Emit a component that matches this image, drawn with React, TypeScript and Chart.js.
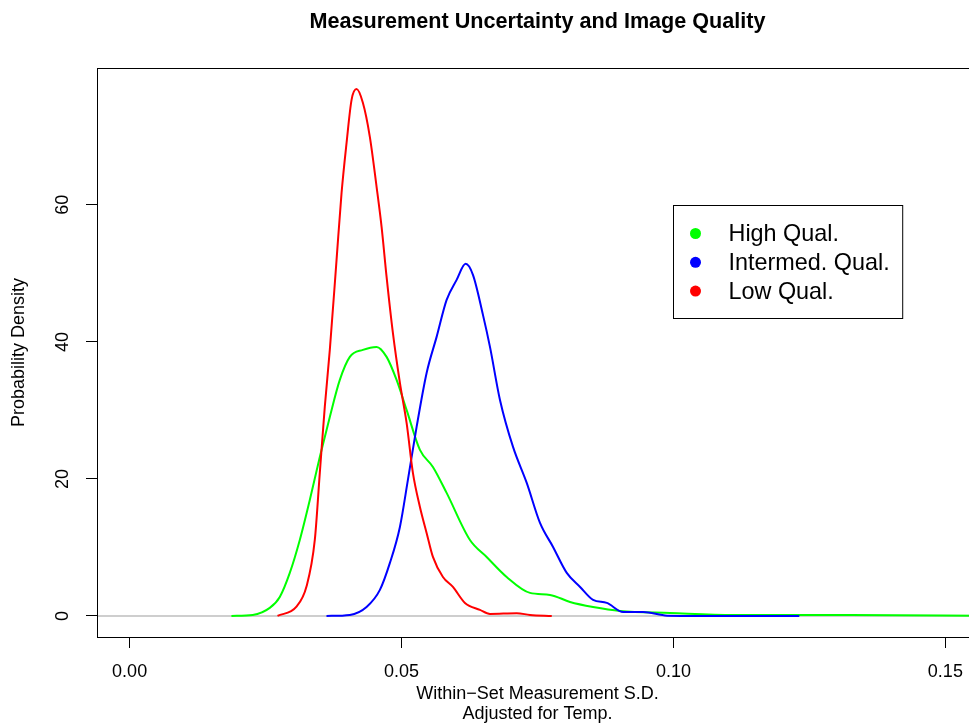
import React, { useEffect, useRef } from 'react';
import { Chart, registerables } from 'chart.js';

Chart.register(...registerables);

// ---- data ----
const seriesLabels = ['High Qual.', 'Intermed. Qual.', 'Low Qual.'];
const seriesColors = ['#00FF00', '#0000FF', '#FF0000'];

const highX = [0.01872, 0.02264, 0.02577, 0.02761, 0.02945, 0.03129, 0.03313, 0.03497, 0.03681, 0.03865, 0.04049, 0.04289, 0.04541, 0.04725, 0.04909, 0.05093, 0.05338, 0.05577, 0.05829, 0.06258, 0.06565, 0.06933, 0.07362, 0.0773, 0.08098, 0.08522, 0.09019, 0.09939, 0.11099, 0.13252, 0.158];
const highY = [0, 0.15, 1.17, 2.77, 6.28, 11.09, 16.93, 23.21, 29.05, 34.45, 37.81, 38.83, 39.27, 37.81, 34.45, 30.07, 24.23, 21.75, 17.96, 11.09, 8.61, 5.69, 3.36, 3.07, 2.04, 1.31, 0.73, 0.44, 0.15, 0.15, 0.0];

const interX = [0.0362, 0.04049, 0.04357, 0.04602, 0.04786, 0.0497, 0.05117, 0.05277, 0.05461, 0.05645, 0.05829, 0.06013, 0.06179, 0.06313, 0.06497, 0.06626, 0.0681, 0.0705, 0.07302, 0.07546, 0.07786, 0.08038, 0.08283, 0.08522, 0.08774, 0.09074, 0.09442, 0.09884, 0.10491, 0.12314];
const interY = [0, 0.15, 1.31, 3.8, 7.74, 12.99, 19.85, 27.59, 35.47, 40.73, 46.13, 49.05, 51.39, 49.78, 43.94, 39.27, 31.53, 24.67, 19.42, 13.58, 10.07, 6.28, 4.23, 2.34, 1.9, 0.58, 0.58, 0.04, 0, 0];

const lowX = [0.02719, 0.03068, 0.03252, 0.03405, 0.03497, 0.03589, 0.03681, 0.03805, 0.03897, 0.03989, 0.04081, 0.04173, 0.04289, 0.04417, 0.04541, 0.04633, 0.04725, 0.04841, 0.0497, 0.05093, 0.05209, 0.05338, 0.05461, 0.05577, 0.05761, 0.05945, 0.06166, 0.06442, 0.06626, 0.07118, 0.07362, 0.07762];
const lowY = [0, 1.36, 4.28, 11.09, 20.88, 30.55, 38.83, 51.97, 61.75, 69.05, 75.33, 76.9, 74.89, 69.93, 62.63, 56.79, 49.49, 41.31, 34.01, 28.18, 20.88, 15.91, 12.12, 8.61, 5.69, 4.23, 1.9, 0.88, 0.29, 0.39, 0.15, 0];

const xTicks = [0, 0.05, 0.1, 0.15];
const xTickLabels = ['0.00', '0.05', '0.10', '0.15'];
const yTicks = [0, 20, 40, 60];
const yTickLabels = ['0', '20', '40', '60'];
const xLimits = [0, 0.15];
const yLimits = [0, 76.9];
const legendAnchor = [0.1, 60];

const titleText = 'Measurement Uncertainty and Image Quality';
const xTitle = ['Within\u2212Set Measurement S.D.', 'Adjusted for Temp.'];
const yTitle = 'Probability Density';

const FONT = '"Liberation Sans", Arial, Helvetica, sans-serif';

const ext = (lim: number[]) => {
  const d = (lim[1] - lim[0]) * 0.04;
  return [lim[0] - d, lim[1] + d];
};

const framePlugin = {
  id: 'rframe',
  beforeDatasetsDraw(chart: any) {
    const { ctx, chartArea: a, scales } = chart;
    const y0 = scales.y.getPixelForValue(0);
    ctx.save();
    ctx.strokeStyle = '#BEBEBE';
    ctx.lineWidth = 1.5;
    ctx.beginPath();
    ctx.moveTo(a.left, y0);
    ctx.lineTo(a.right, y0);
    ctx.stroke();
    ctx.restore();
  },
  afterDraw(chart: any) {
    const { ctx, chartArea: a, scales } = chart;
    ctx.save();
    ctx.strokeStyle = '#000';
    ctx.lineWidth = 1;
    ctx.strokeRect(Math.round(a.left) + 0.5, Math.round(a.top) + 0.5, Math.round(a.right - a.left), Math.round(a.bottom - a.top));

    // legend
    const lx = Math.round(scales.x.getPixelForValue(legendAnchor[0])) + 0.5;
    const ly = Math.round(scales.y.getPixelForValue(legendAnchor[1])) + 0.5;
    ctx.font = `23.4px ${FONT}`;
    let maxW = 0;
    seriesLabels.forEach((l) => { maxW = Math.max(maxW, ctx.measureText(l).width); });
    const w = 55 + maxW + 13;
    const h = 113;
    ctx.fillStyle = '#fff';
    ctx.fillRect(lx, ly, w, h);
    ctx.strokeStyle = '#000';
    ctx.strokeRect(lx, ly, w, h);
    ctx.textBaseline = 'middle';
    ctx.textAlign = 'left';
    seriesLabels.forEach((l, i) => {
      const cy = ly + 28 + i * 28.8;
      ctx.fillStyle = seriesColors[i];
      ctx.beginPath();
      ctx.arc(lx + 22, cy, 5.5, 0, Math.PI * 2);
      ctx.fill();
      ctx.fillStyle = '#000';
      ctx.fillText(l, lx + 55, cy + 1);
    });
    ctx.restore();
  },
};

export default function App() {
  const ref = useRef<HTMLCanvasElement | null>(null);

  useEffect(() => {
    if (!ref.current) return;
    const [xMin, xMax] = ext(xLimits);
    const [yMin, yMax] = ext(yLimits);
    const mk = (xs: number[], ys: number[]) => xs.map((x, i) => ({ x, y: ys[i] }));
    const series = [mk(highX, highY), mk(interX, interY), mk(lowX, lowY)];
    const tickFont = { family: FONT, size: 18 };

    const chart = new Chart(ref.current, {
      type: 'line',
      data: {
        datasets: series.map((d, i) => ({
          label: seriesLabels[i],
          data: d,
          borderColor: seriesColors[i],
          backgroundColor: seriesColors[i],
          borderWidth: 2,
          pointRadius: 0,
          fill: false,
          cubicInterpolationMode: 'monotone' as const,
          order: 3 - i,
        })),
      },
      options: {
        animation: false,
        responsive: false,
        devicePixelRatio: 1,
        layout: { padding: 0 },
        plugins: {
          legend: { display: false },
          tooltip: { enabled: false },
          title: {
            display: true,
            text: titleText,
            fullSize: false,
            color: '#000',
            font: { family: FONT, size: 21.6, weight: 'bold', lineHeight: 1.2 },
            padding: { top: 9, bottom: 33.08 },
          },
        },
        scales: {
          x: {
            type: 'linear',
            min: xMin,
            max: xMax,
            afterBuildTicks: (s: any) => { s.ticks = xTicks.map((v) => ({ value: v })); },
            afterFit: (s: any) => { s.height = 89; },
            ticks: {
              autoSkip: false,
              minRotation: 0,
              maxRotation: 0,
              padding: 13,
              color: '#000',
              font: tickFont,
              callback: (_v: any, i: number) => xTickLabels[i],
            },
            grid: { drawOnChartArea: false, drawTicks: true, tickLength: 11, tickColor: '#000', color: '#000', lineWidth: 1 },
            border: { display: false },
            title: {
              display: true,
              text: xTitle,
              color: '#000',
              font: { family: FONT, size: 18, lineHeight: 1.1 },
              padding: { top: 0, bottom: 2 },
            },
          },
          y: {
            type: 'linear',
            min: yMin,
            max: yMax,
            afterBuildTicks: (s: any) => { s.ticks = yTicks.map((v) => ({ value: v })); },
            afterFit: (s: any) => { s.width = 97; },
            ticks: {
              autoSkip: false,
              minRotation: 90,
              maxRotation: 90,
              crossAlign: 'center',
              padding: 13,
              color: '#000',
              font: tickFont,
              callback: (_v: any, i: number) => yTickLabels[i],
            },
            grid: { drawOnChartArea: false, drawTicks: true, tickLength: 11, tickColor: '#000', color: '#000', lineWidth: 1 },
            border: { display: false },
            title: {
              display: true,
              text: yTitle,
              color: '#000',
              font: { family: FONT, size: 18, lineHeight: 1.2 },
              padding: { top: 8, bottom: 0 },
            },
          },
        },
      },
      plugins: [framePlugin],
    } as any);
    return () => chart.destroy();
  }, []);

  return (
    <div style={{ position: 'fixed', left: 0, top: 0, width: 969, height: 726, overflow: 'hidden', background: '#fff' }}>
      <canvas ref={ref} width={978} height={726} style={{ display: 'block', width: 978, height: 726 }} />
    </div>
  );
}
